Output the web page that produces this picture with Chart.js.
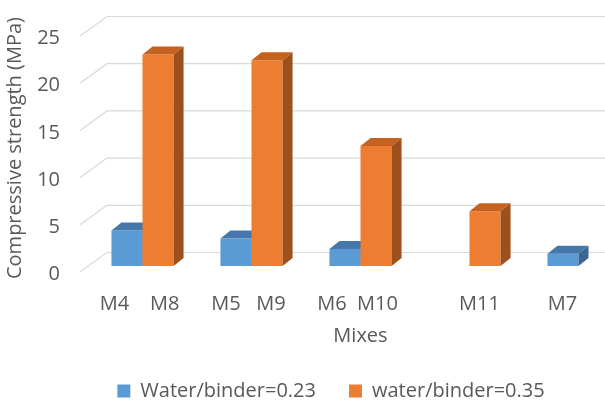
<!DOCTYPE html>
<html>
<head>
<meta charset="utf-8">
<script src="https://cdn.jsdelivr.net/npm/chart.js@4/dist/chart.umd.min.js"></script>
<style>
  html, body { margin: 0; padding: 0; background: #ffffff; }
  #wrap { width: 605px; height: 406px; overflow: hidden; position: relative; }
  canvas { display: block; }
</style>
</head>
<body>
<div id="wrap"><canvas id="c" width="662" height="406"></canvas></div>
<script>
// Mix pairs shown side by side (w/b 0.23 mix, w/b 0.35 mix)
const categories = ['M4    M8', 'M5   M9', 'M6  M10', '     M11', 'M7     '];
const seriesNames = ['Water/binder=0.23', 'water/binder=0.35'];
const lowWB = [3.75, 2.9, 1.8, null, 1.3];      // MPa
const highWB = [22.4, 21.8, 12.7, 5.8, null];   // MPa
const yTicks = [0, 5, 10, 15, 20, 25];

const TEXT = '#595959';
const FONT = 'Open Sans';
const faceColors = [
  { front: '#5B9BD5', top: '#4677AB', side: '#3A6694' },
  { front: '#ED7D31', top: '#C6621F', side: '#9E501C' }
];
const DEPTH = { dx: 10, dy: -8 };

// Back wall / side wall grid of the 3D box, taken from the value scale
const wallGrid = {
  id: 'wallGrid',
  beforeDatasetsDraw(chart) {
    const { ctx, chartArea } = chart;
    const ys = chart.scales.y;
    const frontX = chartArea.left - 8;
    const backX = chartArea.left + 19;
    ctx.save();
    ctx.strokeStyle = '#D9D9D9';
    ctx.lineWidth = 1.2;
    yTicks.forEach(v => {
      const y = ys.getPixelForValue(v);
      ctx.beginPath();
      ctx.moveTo(frontX, y + 6);
      ctx.lineTo(backX, y - 13.5);
      ctx.lineTo(chart.width, y - 13.5);
      ctx.stroke();
    });
    ctx.restore();
  }
};

// Columns are drawn left series first, each followed by its top and side
// faces, so the next column's front covers the previous column's side.
const columns3d = {
  id: 'columns3d',
  beforeDatasetDraw() { return false; },
  afterDatasetsDraw(chart) {
    const { ctx } = chart;
    chart.data.datasets.forEach((ds, idx) => {
      const meta = chart.getDatasetMeta(idx);
      if (!meta.visible) return;
      meta.controller.draw();
      const colors = faceColors[idx];
      ctx.save();
      meta.data.forEach((bar, i) => {
        if (ds.data[i] === null || ds.data[i] === undefined) return;
        const { x, y, base, width } = bar.getProps(['x', 'y', 'base', 'width'], true);
        const l = x - width / 2, r = x + width / 2;
        ctx.fillStyle = colors.top;
        ctx.beginPath();
        ctx.moveTo(l, y);
        ctx.lineTo(l + DEPTH.dx, y + DEPTH.dy);
        ctx.lineTo(r + DEPTH.dx, y + DEPTH.dy);
        ctx.lineTo(r, y);
        ctx.closePath();
        ctx.fill();
        ctx.fillStyle = colors.side;
        ctx.beginPath();
        ctx.moveTo(r, y);
        ctx.lineTo(r + DEPTH.dx, y + DEPTH.dy);
        ctx.lineTo(r + DEPTH.dx, base + DEPTH.dy);
        ctx.lineTo(r, base);
        ctx.closePath();
        ctx.fill();
      });
      ctx.restore();
    });
  }
};

new Chart(document.getElementById('c'), {
  type: 'bar',
  data: {
    labels: categories,
    datasets: [
      { label: seriesNames[0], data: lowWB, backgroundColor: faceColors[0].front },
      { label: seriesNames[1], data: highWB, backgroundColor: faceColors[1].front }
    ]
  },
  options: {
    responsive: false,
    animation: false,
    events: [],
    layout: { padding: { left: 29, right: 29, top: 30, bottom: -5 } },
    datasets: { bar: { categoryPercentage: 0.57, barPercentage: 1.0, borderWidth: 0 } },
    scales: {
      x: {
        grid: { display: false, drawTicks: false },
        border: { display: false },
        ticks: {
          color: TEXT, font: { family: FONT, size: 20 },
          maxRotation: 0, autoSkip: false, padding: 26.5, labelOffset: -3
        },
        title: {
          display: true, text: 'Mixes', color: TEXT,
          font: { family: FONT, size: 20 }, padding: { top: 0, bottom: 0 }
        },
        afterFit(scale) { scale.height = 82; }
      },
      y: {
        min: 0, max: 25,
        grid: { display: false, drawTicks: true, tickLength: 24 },
        border: { display: false },
        afterBuildTicks(scale) { scale.ticks = yTicks.map(v => ({ value: v })); },
        ticks: {
          color: TEXT, font: { family: FONT, size: 20 },
          padding: 4, labelOffset: 8.5
        },
        title: {
          display: true, text: 'Compressive strength (MPa)', color: TEXT,
          font: { family: FONT, size: 20 }, padding: { top: -26, bottom: 0 }
        },
        afterFit(scale) { scale.width = 59; }
      }
    },
    plugins: {
      tooltip: { enabled: false },
      legend: {
        position: 'bottom',
        labels: {
          color: TEXT, font: { family: FONT, size: 20 },
          boxWidth: 13, boxHeight: 13, padding: 33
        }
      }
    }
  },
  plugins: [wallGrid, columns3d]
});
</script>
</body>
</html>
